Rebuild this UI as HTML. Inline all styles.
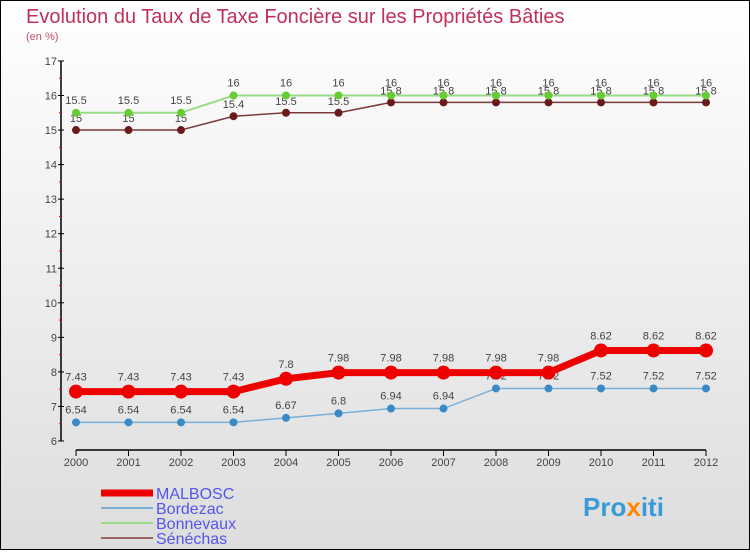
<!DOCTYPE html>
<html><head><meta charset="utf-8"><style>
body{margin:0;width:750px;height:550px;overflow:hidden;font-family:"Liberation Sans",sans-serif}
#wrap{position:relative;width:748px;height:548px;border:1px solid #000;background:linear-gradient(#fff,#ddd)}
</style></head><body>
<div id="wrap">
<svg id="chart" width="748" height="548">
<text x="25" y="22" font-size="20" fill="#c0305a">Evolution du Taux de Taxe Foncière sur les Propriétés Bâties</text>
<text x="25" y="39" font-size="11" fill="#c0506a">(en %)</text>
<g id="axes"></g><g id="series"></g>
<g>
<line x1="100" y1="492" x2="152" y2="492" stroke="#e00" stroke-width="7"/>
<text x="155" y="498" font-size="16" fill="#55e">MALBOSC</text>
<line x1="100" y1="507" x2="152" y2="507" stroke="#7ab0d8" stroke-width="2"/>
<text x="155" y="513" font-size="16" fill="#55e">Bordezac</text>
<line x1="100" y1="522" x2="152" y2="522" stroke="#9d8" stroke-width="2"/>
<text x="155" y="528" font-size="16" fill="#55e">Bonnevaux</text>
<line x1="100" y1="537" x2="152" y2="537" stroke="#966" stroke-width="2"/>
<text x="155" y="543" font-size="16" fill="#55e">Sénéchas</text>
</g>
<text x="582" y="515" font-size="26" font-weight="bold" fill="#3a9ad8">Pro<tspan fill="#f80">x</tspan>iti</text>
</svg></div>
<script>
const years=[2000,2001,2002,2003,2004,2005,2006,2007,2008,2009,2010,2011,2012];
const malbosc=[7.43,7.43,7.43,7.43,7.8,7.98,7.98,7.98,7.98,7.98,8.62,8.62,8.62];
const bordezac=[6.54,6.54,6.54,6.54,6.67,6.8,6.94,6.94,7.52,7.52,7.52,7.52,7.52];
const bonnevaux=[15.5,15.5,15.5,16,16,16,16,16,16,16,16,16,16];
const senechas=[15,15,15,15.4,15.5,15.5,15.8,15.8,15.8,15.8,15.8,15.8,15.8];
const yTicks=[6,7,8,9,10,11,12,13,14,15,16,17];
const NS="http://www.w3.org/2000/svg";
const X=i=>75+i*52.5, Y=v=>440-(v-6)*34.55;
function mk(tag,attrs,parent){const e=document.createElementNS(NS,tag);for(const k in attrs)e.setAttribute(k,attrs[k]);parent.appendChild(e);return e;}
const ax=document.getElementById('axes');
let l=mk('line',{x1:60,y1:Y(17),x2:60,y2:Y(6),stroke:'#000','stroke-width':1.5},ax);


l=mk('line',{x1:X(0),y1:449,x2:X(12),y2:449,stroke:'#000','stroke-width':1.5},ax);


yTicks.forEach(v=>{
  mk('line',{x1:57,y1:Y(v),x2:63,y2:Y(v),stroke:'#000'},ax);
  if(v<17)mk('line',{x1:58,y1:Y(v+0.5),x2:61,y2:Y(v+0.5),stroke:'#e00'},ax);
  const t=mk('text',{x:56,y:Y(v)+4,'font-size':11,fill:'#444','text-anchor':'end'},ax);t.textContent=v;
  
  
});
years.forEach((y,i)=>{
  mk('line',{x1:X(i),y1:449,x2:X(i),y2:455,stroke:'#000'},ax);
  const t=mk('text',{x:X(i),y:465,'font-size':11,fill:'#444','text-anchor':'middle'},ax);t.textContent=y;
  
  
});
const sg=document.getElementById('series');
function series(name,data,color,w,r,dot,labelDy){
  const g=mk('g',{},sg);
  
  
  const p=mk('polyline',{points:data.map((v,i)=>X(i)+','+Y(v)).join(' '),fill:'none',stroke:color,'stroke-width':w},g);
  
  
  data.forEach((v,i)=>{
    const c=mk('circle',{cx:X(i),cy:Y(v),r:r,fill:dot},g);
    
    
    const t=mk('text',{x:X(i),y:Y(v)+labelDy,'font-size':11,fill:'#444','text-anchor':'middle'},g);t.textContent=v;
    
    
  });
}
series('senechas',senechas,'#7a3a3a',1.5,4,'#6a1a1a',-8);
series('bonnevaux',bonnevaux,'#9d8',2,4,'#6c3',-9);
series('bordezac',bordezac,'#7ab0d8',1.5,4,'#3a8ac8',-9);
series('malbosc',malbosc,'#e00',7,7,'#e00',-11);
</script>
</body></html>
